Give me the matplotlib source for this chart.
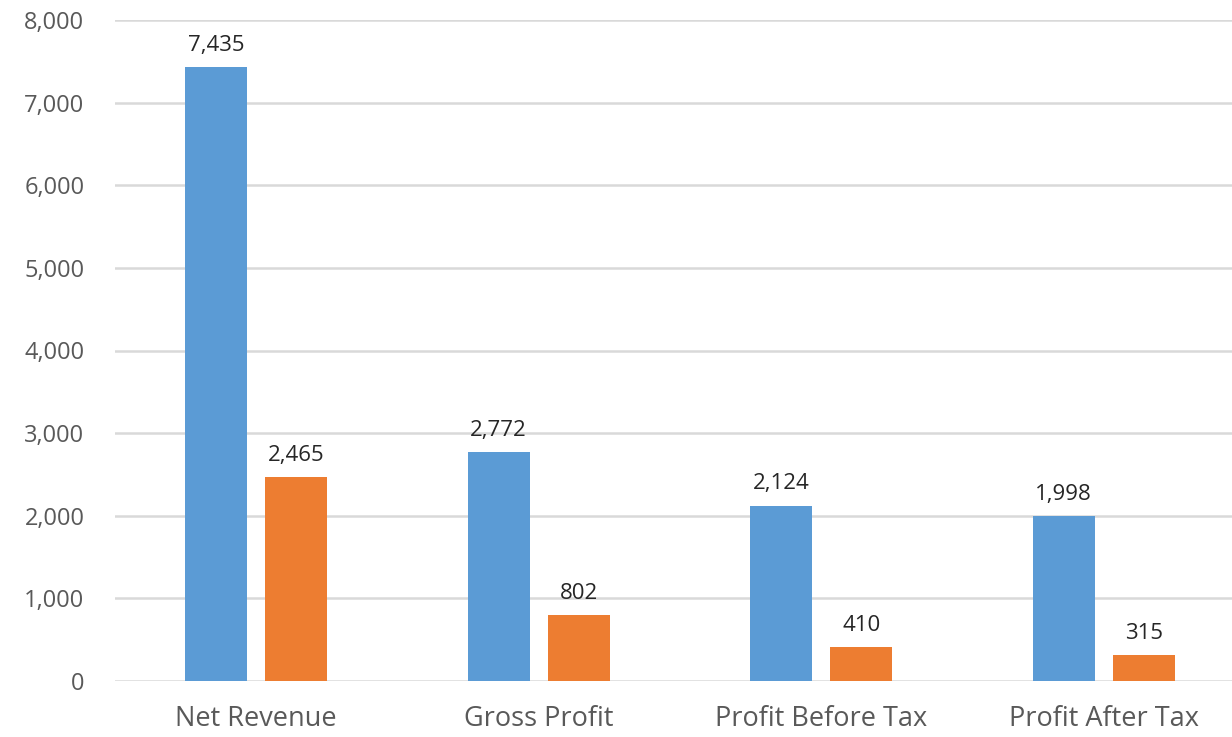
import numpy as np
import matplotlib
matplotlib.use("Agg")
import matplotlib.pyplot as plt

# Values
categories = ["Net Revenue", "Gross Profit", "Profit Before Tax", "Profit After Tax"]
series_a = [7435, 2772, 2124, 1998]
series_b = [2465, 802, 410, 315]
y_ticks = [0, 1000, 2000, 3000, 4000, 5000, 6000, 7000, 8000]

BLUE = "#5B9BD5"
ORANGE = "#ED7D31"

plt.rcParams["font.family"] = ["Open Sans", "DejaVu Sans"]

fig = plt.figure(figsize=(12.32, 7.37), dpi=100)
ax = fig.add_axes([115 / 1232, 1 - 681 / 737, 1 - 115 / 1232, (681 - 20) / 737])

x = np.arange(len(categories))
width = 0.22
offset = 0.142

bars_a = ax.bar(x - offset, series_a, width, color=BLUE, zorder=3)
bars_b = ax.bar(x + offset, series_b, width, color=ORANGE, zorder=3)

for bars in (bars_a, bars_b):
    for b in bars:
        ax.annotate(f"{b.get_height():,.0f}",
                    (b.get_x() + b.get_width() / 2, b.get_height()),
                    xytext=(0, 8), textcoords="offset points",
                    ha="center", va="bottom", fontsize=16, color="#262626")

ax.set_ylim(0, 8000)
ax.set_xlim(-0.5, 3.454)
ax.set_yticks(y_ticks)
ax.set_yticklabels([f"{v:,}" for v in y_ticks])
ax.set_xticks(x)
ax.set_xticklabels(categories)

ax.grid(axis="y", color="#D9D9D9", linewidth=1.8, zorder=0)
ax.set_axisbelow(True)
for s in ax.spines.values():
    s.set_visible(False)
ax.tick_params(axis="both", length=0, colors="#595959")
ax.tick_params(axis="y", pad=22, labelsize=17)
ax.tick_params(axis="x", pad=17, labelsize=19.5)

fig.savefig("out.png", dpi=100)
